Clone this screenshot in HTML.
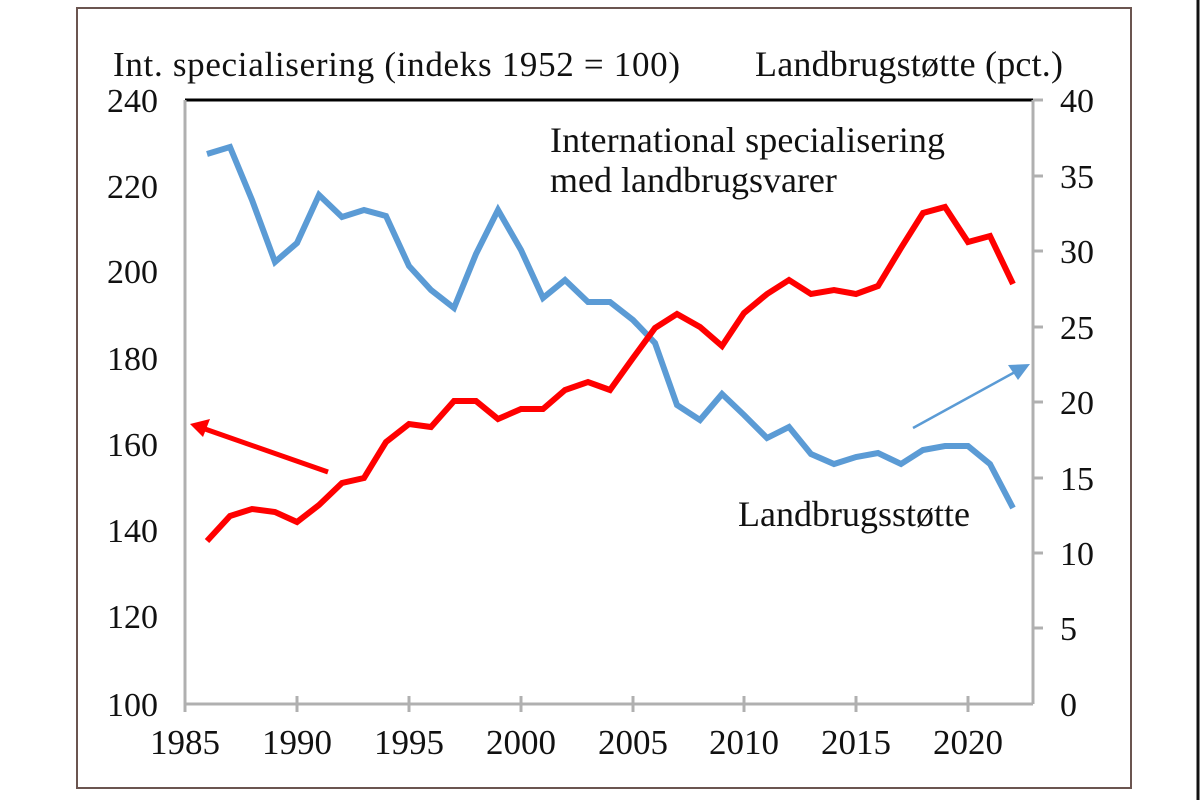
<!DOCTYPE html>
<html><head><meta charset="utf-8"><style>
body{margin:0;background:#fff;width:1200px;height:800px;overflow:hidden}
svg text{font-family:"Liberation Serif",serif;fill:#111}
</style></head><body>
<svg width="1200" height="800" xmlns="http://www.w3.org/2000/svg">
<rect x="77" y="8" width="1054" height="780" fill="none" stroke="#6b5550" stroke-width="2"/>
<line x1="1198" y1="0" x2="1198" y2="800" stroke="#111" stroke-width="3"/>
<line x1="185" y1="100" x2="1033" y2="100" stroke="#000" stroke-width="3"/>
<g stroke="#b0b0b0" stroke-width="3" fill="none">
<line x1="185" y1="100" x2="185" y2="704"/>
<line x1="1033" y1="100" x2="1033" y2="704"/>
<line x1="185" y1="704" x2="1033" y2="704"/>
<path d="M968 696V712M856 696V712M744 696V712M633 696V712M521 696V712M409 696V712M297 696V712M185 696V712"/>
<path d="M1033 628H1043M1033 553H1043M1033 478H1043M1033 402H1043M1033 327H1043M1033 251H1043M1033 176H1043M1033 100H1043"/>
</g>
<g font-size="34" text-anchor="end" style="fill:#333">
<text x="158" y="112">240</text><text x="158" y="198">220</text><text x="158" y="283">200</text><text x="158" y="370">180</text><text x="158" y="456">160</text><text x="158" y="542">140</text><text x="158" y="628">120</text><text x="158" y="716">100</text>
</g>
<g font-size="34" style="fill:#333">
<text x="1060" y="112">40</text><text x="1060" y="188">35</text><text x="1060" y="263">30</text><text x="1060" y="339">25</text><text x="1060" y="414">20</text><text x="1060" y="490">15</text><text x="1060" y="565">10</text><text x="1060" y="640">5</text><text x="1060" y="716">0</text>
</g>
<g font-size="35" text-anchor="middle" style="fill:#333">
<text x="185" y="754">1985</text><text x="297" y="754">1990</text><text x="409" y="754">1995</text><text x="521" y="754">2000</text><text x="633" y="754">2005</text><text x="744" y="754">2010</text><text x="856" y="754">2015</text><text x="968" y="754">2020</text>
</g>
<text x="113" y="76" font-size="35" textLength="567" lengthAdjust="spacing">Int. specialisering  (indeks 1952 = 100)</text>
<text x="755" y="76" font-size="36" textLength="308" lengthAdjust="spacing">Landbrugstøtte (pct.)</text>
<text x="550" y="152" font-size="36" textLength="395" lengthAdjust="spacing">International  specialisering</text>
<text x="550" y="192" font-size="36">med landbrugsvarer</text>
<text x="738" y="526" font-size="36">Landbrugsstøtte</text>
<polyline fill="none" stroke="#5b9bd5" stroke-width="6" points="207,154 230,147 252,200 275,262 297,243 319,195 342,217 364,210 386,216 409,266 431,290 454,308 476,254 498,210 521,250 543,298 565,280 588,302 610,302 633,320 655,343 677,405 700,420 722,394 744,415 767,438 789,427 811,454 834,464 856,457 878,453 901,464 923,450 945,446 968,446 990,464 1013,508"/>
<polyline fill="none" stroke="#ff0000" stroke-width="6" points="207,541 230,516 252,509 275,512 297,522 319,505 342,483 364,478 386,442 409,424 431,427 454,401 476,401 498,419 521,409 543,409 565,390 588,382 610,390 633,358 655,328 677,314 700,327 722,346 744,313 767,294 789,280 811,294 834,290 856,294 878,286 901,248 923,213 945,207 968,242 990,236 1013,284"/>
<line x1="328" y1="472" x2="205" y2="429" stroke="#ff0000" stroke-width="5"/>
<polygon points="190,424 210,419 203,437" fill="#ff0000"/>
<line x1="913" y1="428" x2="1015" y2="372" stroke="#5b9bd5" stroke-width="2.5"/>
<polygon points="1030,364 1008,365 1018,380" fill="#5b9bd5"/>
</svg>
</body></html>
